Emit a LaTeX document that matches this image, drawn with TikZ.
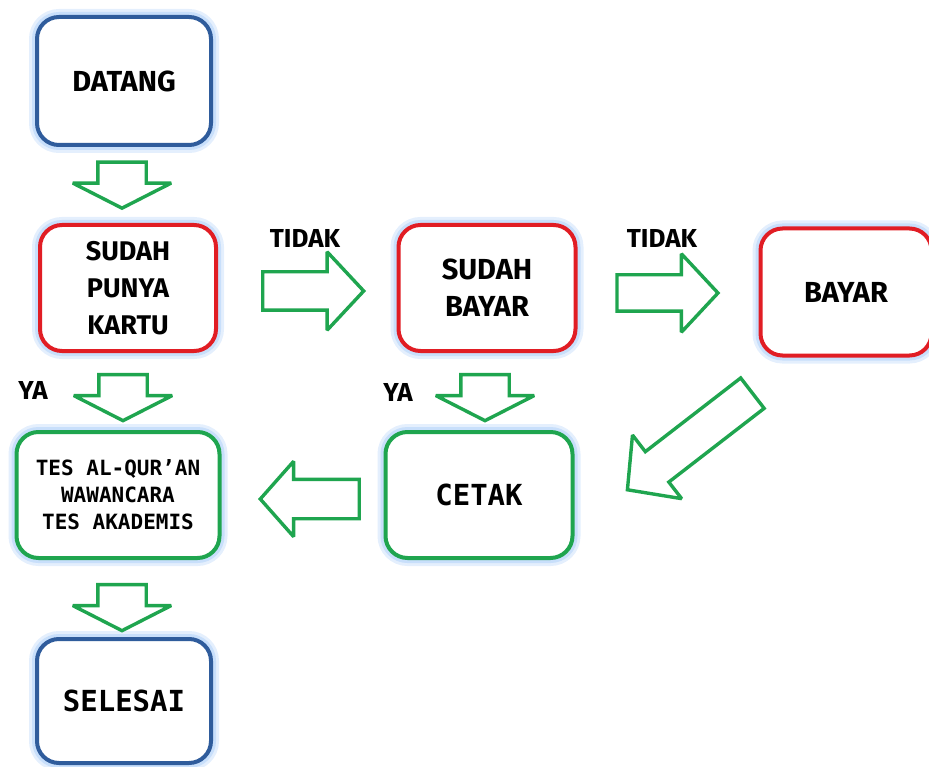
\documentclass[tikz,border=0pt]{standalone}
\usepackage{fontspec}
\setmainfont{Fira Sans}
\newfontfamily\monofont{DejaVu Sans Mono}
\usetikzlibrary{calc,shapes.arrows,positioning}
\definecolor{boxblue}{HTML}{2F5C9C}
\definecolor{boxred}{HTML}{E11D24}
\definecolor{boxgreen}{HTML}{1FA54F}
\definecolor{glow}{HTML}{C8DFFB}
\tikzset{
  stepbox/.style={rectangle, rounded corners=22pt, line width=4pt, fill=white, align=center,
    preaction={draw=glow!50, line width=16pt},
    preaction={draw=glow, line width=10pt}},
  startbox/.style={stepbox, draw=boxblue},
  askbox/.style={stepbox, draw=boxred},
  workbox/.style={stepbox, draw=boxgreen},
  bigtext/.style={font=\fontsize{29}{37}\selectfont\bfseries},
  monotext/.style={font=\fontsize{29}{35}\monofont\bfseries},
  garrow/.style n args={4}{single arrow, draw=boxgreen, line width=3.4pt, fill=white,
    line join=miter, miter limit=1.6,
    inner xsep=0pt, inner ysep=#2, single arrow head extend=#3,
    minimum height=#1, single arrow tip angle=#4},
  answer/.style={font=\fontsize{26}{30}\selectfont\bfseries}
}
\begin{document}
\begin{tikzpicture}[x=1pt,y=1pt]
\useasboundingbox (0,0) rectangle (929,-767);
\node[startbox, bigtext, minimum width=174pt, minimum height=128pt] (datang) at (124,-81) {DATANG};
\node[askbox, minimum width=176pt, minimum height=126pt, font=\fontsize{27}{37}\selectfont\bfseries] (punya) at (128,-288) {SUDAH\\PUNYA\\KARTU};
\node[askbox, bigtext, minimum width=177pt, minimum height=126pt] (sbayar) at (487,-288) {SUDAH\\BAYAR};
\node[askbox, bigtext, minimum width=171pt, minimum height=127pt] (bayar) at (846,-292) {BAYAR};
\node[workbox, minimum width=203pt, minimum height=126pt, font=\fontsize{21}{27}\monofont\bfseries] (tes) at (118,-495) {TES AL-QUR’AN\\WAWANCARA\\TES AKADEMIS};
\node[workbox, monotext, minimum width=187pt, minimum height=126pt] (cetak) at (479,-495) {CETAK};
\node[startbox, monotext, minimum width=174pt, minimum height=124pt] (selesai) at (124,-701) {SELESAI};

\node[garrow={46pt}{22.5pt}{25pt}{126}, rotate=-90] (a1) at ($(datang.south)!0.5!(punya.north)+(-4,6)$) {};
\node[garrow={46pt}{22.5pt}{25pt}{126}, rotate=-90] (a2) at ($(punya.south)!0.5!(tes.north)$) {};
\node[garrow={46pt}{22.5pt}{25pt}{126}, rotate=-90] (a3) at ($(sbayar.south)!0.5!(cetak.north)+(2,0)$) {};
\node[garrow={46pt}{22.5pt}{25pt}{126}, rotate=-90] (a4) at ($(tes.south)!0.5!(selesai.north)+(1,-3)$) {};
\node[garrow={101pt}{17.5pt}{20pt}{94}] (r1) at ($(punya.east)!0.5!(sbayar.west)+(-3,-3)$) {};
\node[garrow={101pt}{16.5pt}{21pt}{94}] (r2) at ($(sbayar.east)!0.5!(bayar.west)+(-9,-3)$) {};
\node[garrow={99pt}{18pt}{18pt}{97}, rotate=180] (l1) at ($(cetak.west)!0.5!(tes.east)+(16,-4)$) {};
\node[garrow={158pt}{17.5pt}{21pt}{94}, rotate=217.7] (d1) at (697,-436) {};

\node[answer] (tidak1) at (305,-238) {TIDAK};
\node[answer] (tidak2) at (662,-238) {TIDAK};
\node[answer] (ya1) at (33,-390) {YA};
\node[answer] (ya2) at (398,-392) {YA};
\end{tikzpicture}
\end{document}
